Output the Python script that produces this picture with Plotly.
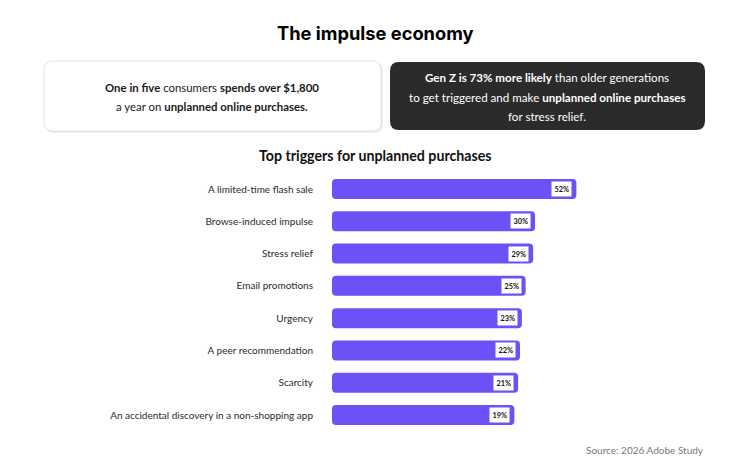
import plotly.graph_objects as go

W, H = 750, 469

categories = [
    "A limited-time flash sale",
    "Browse-induced impulse",
    "Stress relief",
    "Email promotions",
    "Urgency",
    "A peer recommendation",
    "Scarcity",
    "An accidental discovery in a non-shopping app",
]
values = [52, 30, 29, 25, 23, 22, 21, 19]
value_labels = [f"{v}%" for v in values]

title_text = "The impulse economy"
subtitle_text = "Top triggers for unplanned purchases"
source_text = "Source: 2026 Adobe Study"
left_box_lines = [
    "<b>One in five</b> consumers <b>spends over $1,800</b>",
    "a year on <b>unplanned online purchases.</b>",
]
right_box_lines = [
    "<b>Gen Z is 73% more likely</b> than older generations",
    "to get triggered and make <b>unplanned online purchases</b>",
    "for stress relief.",
]

BAR_COLOR = "#6B52F6"
FONT = "Lato, 'Noto Sans', sans-serif"
BAR_BASE = -78
AX_MAX = 100


def px(x):
    return x / W


def py(y):
    return 1 - y / H


def rrect(x0, y0, x1, y1, r):
    rx, ry = r / W, r / H
    X0, X1 = px(x0), px(x1)
    Y0, Y1 = py(y0), py(y1)
    return (
        f"M {X0+rx},{Y0} L {X1-rx},{Y0} Q {X1},{Y0} {X1},{Y0-ry} "
        f"L {X1},{Y1+ry} Q {X1},{Y1} {X1-rx},{Y1} "
        f"L {X0+rx},{Y1} Q {X0},{Y1} {X0},{Y1+ry} "
        f"L {X0},{Y0-ry} Q {X0},{Y0} {X0+rx},{Y0} Z"
    )


fig = go.Figure()
fig.add_trace(
    go.Bar(
        y=categories,
        x=[v - BAR_BASE for v in values],
        base=BAR_BASE,
        orientation="h",
        marker=dict(color=BAR_COLOR, line=dict(width=0)),
        width=0.62,
        hoverinfo="skip",
    )
)

annotations = []
for c, v, lab in zip(categories, values, value_labels):
    annotations.append(
        dict(
            x=v, y=c, xref="x", yref="y", text=f"<b>{lab}</b>",
            showarrow=False, xanchor="right", xshift=-4,
            bgcolor="white", borderpad=2.5,
            font=dict(family=FONT, size=7.3, color="#111"),
        )
    )

annotations.append(dict(x=px(375), y=py(33), xref="paper", yref="paper", text=f"<b>{title_text}</b>",
                        showarrow=False, xanchor="center", yanchor="middle",
                        font=dict(family="Inter, sans-serif", size=18.3, color="#000")))
annotations.append(dict(x=px(375), y=py(155), xref="paper", yref="paper", text=f"<b>{subtitle_text}</b>",
                        showarrow=False, xanchor="center", yanchor="middle",
                        font=dict(family=FONT, size=14.2, color="#111")))
annotations.append(dict(x=px(706), y=py(450), xref="paper", yref="paper", text=source_text,
                        showarrow=False, xanchor="right", yanchor="middle",
                        font=dict(family=FONT, size=10, color="#777")))

for line, yy in zip(left_box_lines, [87, 106]):
    annotations.append(dict(x=px(212), y=py(yy), xref="paper", yref="paper", text=line,
                            showarrow=False, xanchor="center", yanchor="middle",
                            font=dict(family=FONT, size=11.4, color="#1a1a1a")))
for line, yy in zip(right_box_lines, [77, 97, 116]):
    annotations.append(dict(x=px(547), y=py(yy), xref="paper", yref="paper", text=line,
                            showarrow=False, xanchor="center", yanchor="middle",
                            font=dict(family=FONT, size=11.6, color="#ffffff")))

shapes = [
    dict(type="path", xref="paper", yref="paper", path=rrect(45, 62, 383, 133, 9),
         fillcolor="#ececec", line=dict(width=0), layer="below"),
    dict(type="path", xref="paper", yref="paper", path=rrect(44, 61, 381, 131, 9),
         fillcolor="white", line=dict(color="#e4e4e4", width=1), layer="below"),
    dict(type="path", xref="paper", yref="paper", path=rrect(390, 62, 705, 130, 9),
         fillcolor="#2b2b2b", line=dict(width=0), layer="below"),
]

y_top = 189 - 16.14
y_bot = 415 + 16.14
x_left = 332
ppu = 1.88
x_right = x_left + (AX_MAX - BAR_BASE) * ppu

fig.update_layout(
    width=W, height=H,
    margin=dict(l=0, r=0, t=0, b=0),
    paper_bgcolor="white", plot_bgcolor="white",
    showlegend=False,
    barcornerradius=4,
    annotations=annotations,
    shapes=shapes,
    xaxis=dict(domain=[px(x_left), px(x_right)], range=[BAR_BASE, AX_MAX],
               showgrid=False, zeroline=False, showticklabels=False, showline=False),
    yaxis=dict(domain=[py(y_bot), py(y_top)], autorange="reversed",
               categoryorder="array", categoryarray=categories,
               showgrid=False, zeroline=False, showline=False, ticks="",
               ticklabelstandoff=18,
               tickfont=dict(family=FONT, size=10, color="#2a2a2a")),
)

fig.write_html("out.html")
